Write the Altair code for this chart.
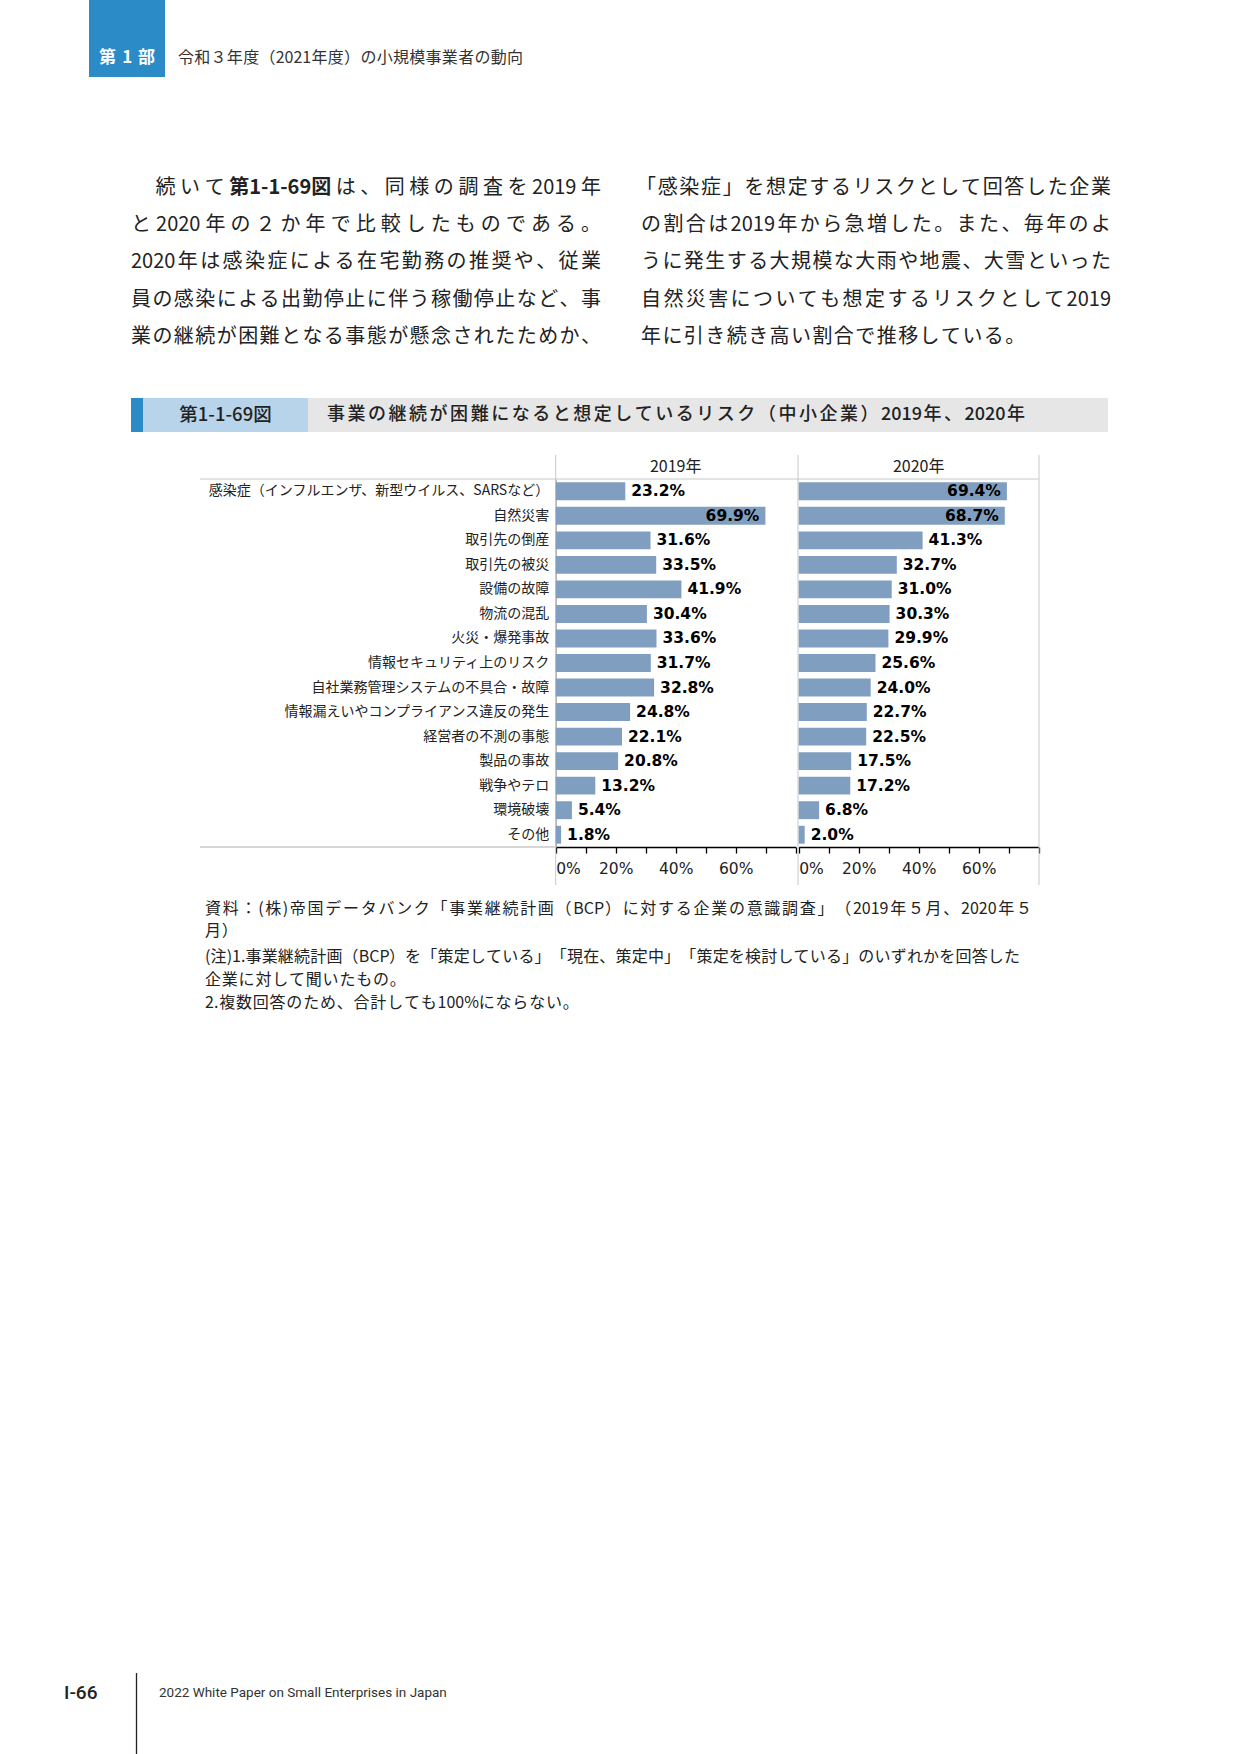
import altair as alt
import pandas as pd

W, H = 1241, 1754

# ---------------- data ----------------
categories = [
    "感染症（インフルエンザ、新型ウイルス、SARSなど）",
    "自然災害",
    "取引先の倒産",
    "取引先の被災",
    "設備の故障",
    "物流の混乱",
    "火災・爆発事故",
    "情報セキュリティ上のリスク",
    "自社業務管理システムの不具合・故障",
    "情報漏えいやコンプライアンス違反の発生",
    "経営者の不測の事態",
    "製品の事故",
    "戦争やテロ",
    "環境破壊",
    "その他",
]
values_2019 = [23.2, 69.9, 31.6, 33.5, 41.9, 30.4, 33.6, 31.7, 32.8, 24.8, 22.1, 20.8, 13.2, 5.4, 1.8]
values_2020 = [69.4, 68.7, 41.3, 32.7, 31.0, 30.3, 29.9, 25.6, 24.0, 22.7, 22.5, 17.5, 17.2, 6.8, 2.0]
years = ["2019年", "2020年"]
tick_values = [0, 10, 20, 30, 40, 50, 60, 70, 80]

header_part = "第1部"
header_title = "令和３年度（2021年度）の小規模事業者の動向"
body_left = [
    [("　続いて", False), ("第1-1-69図", True), ("は、同様の調査を2019年", False)],
    [("と2020年の２か年で比較したものである。", False)],
    [("2020年は感染症による在宅勤務の推奨や、従業", False)],
    [("員の感染による出勤停止に伴う稼働停止など、事", False)],
    [("業の継続が困難となる事態が懸念されたためか、", False)],
]
body_right = [
    "「感染症」を想定するリスクとして回答した企業",
    "の割合は2019年から急増した。また、毎年のよ",
    "うに発生する大規模な大雨や地震、大雪といった",
    "自然災害についても想定するリスクとして2019",
    "年に引き続き高い割合で推移している。",
]
fig_no = "第1-1-69図"
fig_title = "事業の継続が困難になると想定しているリスク（中小企業）2019年、2020年"
notes = [
    "資料：(株)帝国データバンク「事業継続計画（BCP）に対する企業の意識調査」（2019年５月、2020年５",
    "月）",
    "(注)1.事業継続計画（BCP）を「策定している」「現在、策定中」「策定を検討している」のいずれかを回答した",
    "企業に対して聞いたもの。",
    "2.複数回答のため、合計しても100%にならない。",
]
page_no = "I-66"
footer_text = "2022 White Paper on Small Enterprises in Japan"

# ---------------- style / geometry ----------------
JP = "Noto Sans CJK JP"
BAR = "#809fc0"
BLUE = "#2a8bc7"
LIGHTBLUE = "#b8d4ea"
GRAYBOX = "#e6e6e6"
GRID = "#c8c8c8"
TXT = "#222222"

PANEL_X = [555.7, 798.7]
PANEL_W = 240
PLOT_Y0, PLOT_Y1 = 479, 847
HEAD_Y0, FRAME_Y1 = 455, 885

one = pd.DataFrame({"k": [0]})

ASC_W = {c: 0.555 for c in "0123456789"}
ASC_W.update({"-": 0.35, ".": 0.28, "(": 0.33, ")": 0.33, "%": 0.86,
              "B": 0.63, "C": 0.64, "P": 0.6, " ": 0.22})


def em(ch, bold=False):
    if ord(ch) > 255:
        return 1.0
    return ASC_W.get(ch, 0.58) * (1.06 if bold else 1.0)


def tokenize(s):
    toks, buf = [], ""
    for ch in s:
        if ord(ch) < 256:
            buf += ch
        else:
            if buf:
                toks.append(buf)
                buf = ""
            toks.append(ch)
    if buf:
        toks.append(buf)
    return toks


def place(segments, x0, y, fs, width=None, track=0.0):
    # bold segments are kept together as one unit
    toks = []
    for text, bold in segments:
        if bold:
            toks.append((text, True))
        else:
            for t in tokenize(text):
                toks.append((t, False))
    ws = [sum(em(c, b) for c in t) * fs for t, b in toks]
    if width is not None and len(toks) > 1:
        gap = (width - sum(ws)) / (len(toks) - 1)
    else:
        gap = track
    rows, x = [], x0
    for (t, b), w in zip(toks, ws):
        if t.strip() and t != "　":
            rows.append({"t": t.replace("　", ""), "px": x + (fs if t.startswith("　") else 0),
                         "py": y, "b": b})
        x += w + gap
    return rows


def text_layer(rows, **kw):
    return alt.Chart(pd.DataFrame(rows)).mark_text(
        align="left", baseline="middle", **kw
    ).encode(
        x=alt.X("px:Q", scale=None, axis=None),
        y=alt.Y("py:Q", scale=None, axis=None),
        text="t:N",
    )


def rect(x, x2, y, y2, color):
    return alt.Chart(one).mark_rect(color=color).encode(
        x=alt.value(x), x2=alt.value(x2), y=alt.value(y), y2=alt.value(y2))


def rule(x, x2, y, y2, color, w=1.0):
    return alt.Chart(one).mark_rule(color=color, strokeWidth=w).encode(
        x=alt.value(x), x2=alt.value(x2), y=alt.value(y), y2=alt.value(y2))


def label(text, x, y, **kw):
    return alt.Chart(one).mark_text(text=text, **kw).encode(
        x=alt.value(x), y=alt.value(y))


# ---------------- chart panels ----------------
y_axis = alt.Axis(orient="left", offset=-PANEL_X[0], title=None, ticks=False,
                  domain=True, domainColor="#8c8c8c", labelFont=JP,
                  labelFontSize=14, labelColor=TXT, labelPadding=7,
                  labelLimit=600)


def panel(vals, x0):
    df = pd.DataFrame({"cat": categories, "v": vals})
    xs = alt.Scale(domain=[0, 80], range=[x0, x0 + PANEL_W], nice=False)
    xax = alt.Axis(orient="bottom", offset=-(H - PLOT_Y1), values=tick_values,
                   labelExpr="(datum.value % 20 === 0 && datum.value < 80) ? datum.value + '%' : ''",
                   title=None, grid=False, domainColor="#000", domainWidth=1.3,
                   tickColor="#000", tickSize=6, tickWidth=1.3,
                   labelFont="DejaVu Sans", labelFontSize=15.5, labelColor=TXT,
                   labelPadding=8, labelFlush=True, labelOverlap=False)
    xenc = alt.X("v:Q", scale=xs, axis=xax)
    yenc = alt.Y("cat:N", sort=categories,
                 scale=alt.Scale(range=[PLOT_Y0, PLOT_Y1], paddingInner=0.27,
                                 paddingOuter=0.135),
                 axis=y_axis)
    base = alt.Chart(df).transform_calculate(
        lab="format(datum.v, '.1f') + '%'").encode(x=xenc, y=yenc)
    bars = base.mark_bar(color=BAR)
    lab_kw = dict(baseline="middle", font="DejaVu Sans", fontWeight="bold",
                  fontSize=15.5, color="#000")
    out = base.transform_filter("datum.v < 60").mark_text(
        align="left", dx=6, **lab_kw).encode(text="lab:N")
    inn = base.transform_filter("datum.v >= 60").mark_text(
        align="right", dx=-6, **lab_kw).encode(text="lab:N")
    return alt.layer(bars, out, inn)


# ---------------- page decorations ----------------
decor = [
    rect(89, 165, 0, 77, BLUE),
    rect(131, 143, 398, 432, BLUE),
    rect(143, 308, 398, 432, LIGHTBLUE),
    rect(308, 1108, 398, 432, GRAYBOX),
    # table frame
    rule(200, 1039, PLOT_Y0, PLOT_Y0, GRID),
    rule(200, PANEL_X[0], PLOT_Y1, PLOT_Y1, GRID, 1.5),
    rule(PANEL_X[0], PANEL_X[0], HEAD_Y0, FRAME_Y1, GRID),
    rule(798, 798, HEAD_Y0, FRAME_Y1, GRID),
    rule(1039, 1039, HEAD_Y0, FRAME_Y1, GRID),
    # footer separator
    rule(136.5, 136.5, 1673, 1754, "#222", 1.3),
]

heads = [
    label(years[0], PANEL_X[0] + PANEL_W / 2, 467, font=JP, fontSize=16, color=TXT,
          align="center", baseline="middle"),
    label(years[1], PANEL_X[1] + PANEL_W / 2, 467, font=JP, fontSize=16, color=TXT,
          align="center", baseline="middle"),
]

# ---------------- texts ----------------
BODY_FS = 20
COL_W = 470
base_track = (COL_W - 22 * BODY_FS) / 21
line_y = [188, 225.2, 262.4, 299.6, 336.8]

body_rows = []
for i, segs in enumerate(body_left):
    body_rows += place(segs, 131, line_y[i], BODY_FS,
                       width=COL_W if i < 4 else None, track=base_track)
for i, s in enumerate(body_right):
    x0 = 636 if s.startswith("「") else 641
    body_rows += place([(s, False)], x0, line_y[i], BODY_FS,
                       width=(COL_W + 641 - x0) if i < 4 else None, track=base_track)
body_normal = [r for r in body_rows if not r["b"]]
body_bold = [r for r in body_rows if r["b"]]

hdr_rows = place([(header_title, False)], 178, 58, 16, width=345)
part_rows = place([(header_part, False)], 99, 58, 17, width=56)
fig_title_rows = place([(fig_title, False)], 327, 415, 18, width=698)

note_y = [909, 931, 957, 980, 1003]
note_w = [827, None, 815, None, None]
note_rows = []
for s, y, w in zip(notes, note_y, note_w):
    note_rows += place([(s, False)], 205, y, 16, width=w, track=0.8)

texts = [
    text_layer(body_normal, font=JP, fontSize=BODY_FS, color=TXT),
    text_layer(body_bold, font=JP, fontSize=BODY_FS, color=TXT, fontWeight="bold"),
    text_layer(hdr_rows, font=JP, fontSize=16, color="#333"),
    text_layer(part_rows, font=JP, fontSize=17, color="white", fontWeight="bold"),
    label(fig_no, 225.5, 415, font=JP, fontSize=18.5, fontWeight=500, color=TXT,
          align="center", baseline="middle"),
    text_layer(fig_title_rows, font=JP, fontSize=18, color=TXT, fontWeight=500),
    text_layer(note_rows, font=JP, fontSize=16, color=TXT),
    label(page_no, 64, 1693, font="Roboto", fontSize=19, fontWeight=500,
          color="#222", align="left", baseline="middle"),
    label(footer_text, 159, 1693, font="Roboto", fontSize=13.5, color="#333",
          align="left", baseline="middle"),
]

chart = alt.layer(
    *decor,
    panel(values_2019, PANEL_X[0]),
    panel(values_2020, PANEL_X[1]),
    *heads,
    *texts,
).resolve_scale(x="independent").properties(
    width=W, height=H, padding=0, background="white",
    autosize=alt.AutoSizeParams(type="none"),
).configure_view(stroke=None)

chart.save("out.html", embed_options={"renderer": "svg", "actions": False})
